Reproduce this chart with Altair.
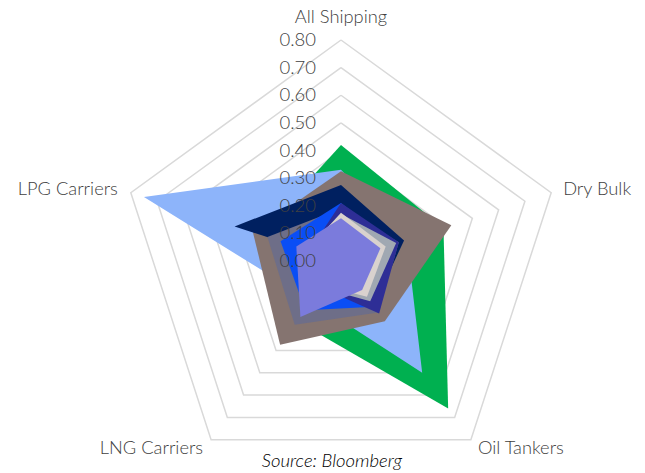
import altair as alt
import pandas as pd

categories = ["All Shipping", "Dry Bulk", "Oil Tankers", "LNG Carriers", "LPG Carriers"]
tick_values = [0.0, 0.1, 0.2, 0.3, 0.4, 0.5, 0.6, 0.7, 0.8]
tick_labels = ["0.00", "0.10", "0.20", "0.30", "0.40", "0.50", "0.60", "0.70", "0.80"]

series_names = ["Series 1", "Series 2", "Series 3", "Series 4", "Series 5",
                "Series 6", "Series 7", "Series 8", "Series 9", "Series 10"]
s1 = [0.42, 0.39, 0.66, 0.27, 0.31]
s2 = [0.33, 0.25, 0.50, 0.18, 0.75]
s3 = [0.325, 0.42, 0.27, 0.375, 0.335]
s4 = [0.275, 0.24, 0.20, 0.0, 0.405]
s5 = [0.19, 0.22, 0.23, 0.285, 0.28]
s6 = [0.21, 0.20, 0.205, 0.22, 0.23]
s7 = [0.21, 0.22, 0.235, 0.12, 0.12]
s8 = [0.17, 0.21, 0.18, 0.12, 0.12]
s9 = [0.175, 0.17, 0.16, 0.11, 0.13]
s10 = [0.155, 0.15, 0.13, 0.25, 0.17]
series_values = [s1, s2, s3, s4, s5, s6, s7, s8, s9, s10]
series_colors = ["#00B050", "#8DB4FA", "#857470", "#002060", "#6E6E88",
                 "#0A4EF5", "#2E2E96", "#A0A8B2", "#D9D2CE", "#7B7BDC"]

source_text = "Source: Bloomberg"

W, H = 645, 473
XDOM = [-1.2344, 1.1005]
YDOM = [-0.7674, 0.9448]
FONT = "Lato"
TEXT_COLOR = "#404040"

xs = alt.X("x:Q", scale=alt.Scale(domain=XDOM, nice=False, zero=False), axis=None)
ys = alt.Y("y:Q", scale=alt.Scale(domain=YDOM, nice=False, zero=False), axis=None)

N = len(categories)


def poly_df(values, name):
    rows = []
    for k in range(N + 1):
        rows.append({"series": name, "idx": k % N, "ord": k, "value": values[k % N]})
    return pd.DataFrame(rows)


def polar(ch):
    return ch.transform_calculate(
        ang="2*PI*datum.idx/" + str(N)
    ).transform_calculate(
        x="datum.value*sin(datum.ang)", y="datum.value*cos(datum.ang)"
    )


layers = []

# grid rings
ring_rows = []
for t in tick_values[1:]:
    for k in range(N + 1):
        ring_rows.append({"tick": t, "idx": k % N, "ord": k, "value": t})
rings = polar(alt.Chart(pd.DataFrame(ring_rows))).mark_line(
    color="#D9D9D9", strokeWidth=1.5
).encode(x=xs, y=ys, detail="tick:N", order="ord:Q")
layers.append(rings)

for name, vals, col in zip(series_names, series_values, series_colors):
    ch = polar(alt.Chart(poly_df(vals, name))).mark_line(
        filled=True, color=col, strokeWidth=0
    ).encode(x=xs, y=ys, order="ord:Q")
    layers.append(ch)

# radial tick labels
ticks_df = pd.DataFrame({"value": tick_values, "label": tick_labels})
tick_text = alt.Chart(ticks_df).transform_calculate(
    x="0", y="datum.value"
).mark_text(align="right", baseline="middle", dx=-25, fontSize=18.5,
            font=FONT, fontWeight=300, color=TEXT_COLOR).encode(x=xs, y=ys, text="label:N")
layers.append(tick_text)

# category labels
label_styles = [
    dict(align="center", dx=0, dy=-22),
    dict(align="left", dx=12, dy=-3),
    dict(align="left", dx=7, dy=9),
    dict(align="right", dx=-8, dy=9),
    dict(align="right", dx=-13, dy=-3),
]
for i, (cat, st) in enumerate(zip(categories, label_styles)):
    cdf = pd.DataFrame({"cat": [cat], "idx": [i], "value": [tick_values[-1]]})
    lt = polar(alt.Chart(cdf)).mark_text(
        baseline="middle", fontSize=18.3, font=FONT, fontWeight=300,
        color=TEXT_COLOR, **st
    ).encode(x=xs, y=ys, text="cat:N")
    layers.append(lt)

src = alt.Chart(pd.DataFrame({"t": [source_text]})).mark_text(
    align="center", baseline="middle", fontSize=18.5, font=FONT,
    fontStyle="italic", fontWeight=300, color="#000000"
).encode(x=alt.value(332), y=alt.value(461), text="t:N")
layers.append(src)

chart = alt.layer(*layers).properties(
    width=W, height=H, autosize=alt.AutoSizeParams(type="none"), padding=0
).configure_view(stroke=None)

chart.save("out.html", embed_options={"renderer": "svg", "actions": False})
